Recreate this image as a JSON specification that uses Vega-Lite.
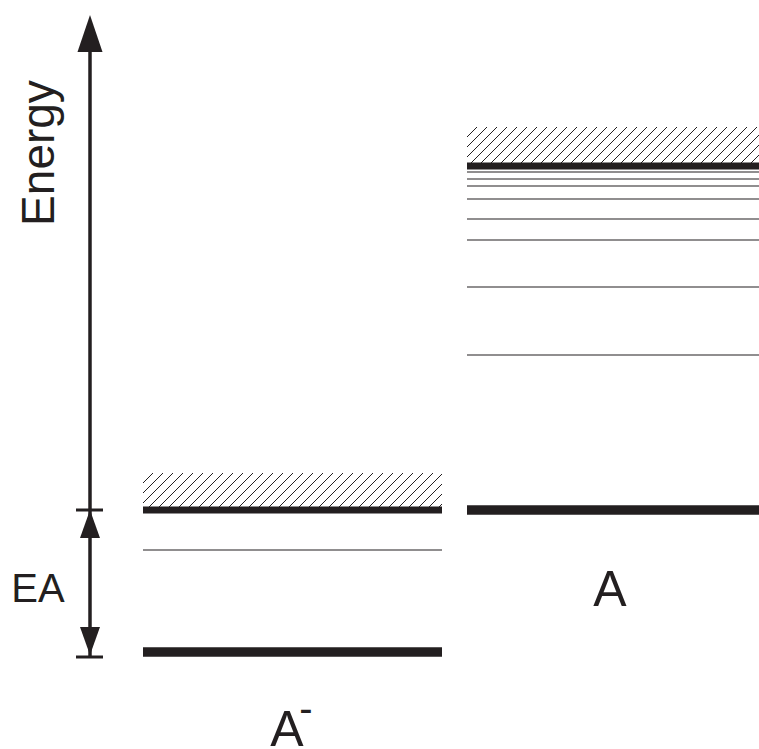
{
  "$schema": "https://vega.github.io/schema/vega-lite/v6.json",
  "description": "Energy-level diagram: the anion A- and the neutral A, with the electron affinity EA between their ground states.",
  "width": 759,
  "height": 749,
  "autosize": "none",
  "padding": 0,
  "background": "white",
  "config": {"view": {"stroke": null}, "font": "Liberation Sans"},
  "datasets": {
    "columns": [
      {"species": "A-", "x": 0, "x2": 299},
      {"species": "A", "x": 324, "x2": 616}
    ],
    "levels": [
      {"species": "A-", "E": 0, "kind": "bound"},
      {"species": "A-", "E": 102, "kind": "excited"},
      {"species": "A-", "E": 142, "kind": "threshold"},
      {"species": "A", "E": 142, "kind": "bound"},
      {"species": "A", "E": 297, "kind": "excited"},
      {"species": "A", "E": 365, "kind": "excited"},
      {"species": "A", "E": 412, "kind": "excited"},
      {"species": "A", "E": 433, "kind": "excited"},
      {"species": "A", "E": 453, "kind": "excited"},
      {"species": "A", "E": 466, "kind": "excited"},
      {"species": "A", "E": 473, "kind": "excited"},
      {"species": "A", "E": 480, "kind": "excited"},
      {"species": "A", "E": 486, "kind": "threshold"}
    ],
    "continuum": [
      {"x": 0, "E": 169, "x2": 10, "E2": 179},
      {"x": 0, "E": 159, "x2": 20, "E2": 179},
      {"x": 0, "E": 149, "x2": 30, "E2": 179},
      {"x": 6, "E": 145, "x2": 40, "E2": 179},
      {"x": 16, "E": 145, "x2": 50, "E2": 179},
      {"x": 26, "E": 145, "x2": 60, "E2": 179},
      {"x": 36, "E": 145, "x2": 70, "E2": 179},
      {"x": 46, "E": 145, "x2": 80, "E2": 179},
      {"x": 56, "E": 145, "x2": 90, "E2": 179},
      {"x": 66, "E": 145, "x2": 100, "E2": 179},
      {"x": 76, "E": 145, "x2": 110, "E2": 179},
      {"x": 86, "E": 145, "x2": 120, "E2": 179},
      {"x": 96, "E": 145, "x2": 130, "E2": 179},
      {"x": 106, "E": 145, "x2": 140, "E2": 179},
      {"x": 116, "E": 145, "x2": 150, "E2": 179},
      {"x": 126, "E": 145, "x2": 160, "E2": 179},
      {"x": 136, "E": 145, "x2": 170, "E2": 179},
      {"x": 146, "E": 145, "x2": 180, "E2": 179},
      {"x": 156, "E": 145, "x2": 190, "E2": 179},
      {"x": 166, "E": 145, "x2": 200, "E2": 179},
      {"x": 176, "E": 145, "x2": 210, "E2": 179},
      {"x": 186, "E": 145, "x2": 220, "E2": 179},
      {"x": 196, "E": 145, "x2": 230, "E2": 179},
      {"x": 206, "E": 145, "x2": 240, "E2": 179},
      {"x": 216, "E": 145, "x2": 250, "E2": 179},
      {"x": 226, "E": 145, "x2": 260, "E2": 179},
      {"x": 236, "E": 145, "x2": 270, "E2": 179},
      {"x": 246, "E": 145, "x2": 280, "E2": 179},
      {"x": 256, "E": 145, "x2": 290, "E2": 179},
      {"x": 266, "E": 145, "x2": 299, "E2": 178},
      {"x": 276, "E": 145, "x2": 299, "E2": 168},
      {"x": 286, "E": 145, "x2": 299, "E2": 158},
      {"x": 296, "E": 145, "x2": 299, "E2": 148},
      {"x": 324, "E": 515, "x2": 334, "E2": 525},
      {"x": 324, "E": 505, "x2": 344, "E2": 525},
      {"x": 324, "E": 495, "x2": 354, "E2": 525},
      {"x": 328, "E": 489, "x2": 364, "E2": 525},
      {"x": 338, "E": 489, "x2": 374, "E2": 525},
      {"x": 348, "E": 489, "x2": 384, "E2": 525},
      {"x": 358, "E": 489, "x2": 394, "E2": 525},
      {"x": 368, "E": 489, "x2": 404, "E2": 525},
      {"x": 378, "E": 489, "x2": 414, "E2": 525},
      {"x": 388, "E": 489, "x2": 424, "E2": 525},
      {"x": 398, "E": 489, "x2": 434, "E2": 525},
      {"x": 408, "E": 489, "x2": 444, "E2": 525},
      {"x": 418, "E": 489, "x2": 454, "E2": 525},
      {"x": 428, "E": 489, "x2": 464, "E2": 525},
      {"x": 438, "E": 489, "x2": 474, "E2": 525},
      {"x": 448, "E": 489, "x2": 484, "E2": 525},
      {"x": 458, "E": 489, "x2": 494, "E2": 525},
      {"x": 468, "E": 489, "x2": 504, "E2": 525},
      {"x": 478, "E": 489, "x2": 514, "E2": 525},
      {"x": 488, "E": 489, "x2": 524, "E2": 525},
      {"x": 498, "E": 489, "x2": 534, "E2": 525},
      {"x": 508, "E": 489, "x2": 544, "E2": 525},
      {"x": 518, "E": 489, "x2": 554, "E2": 525},
      {"x": 528, "E": 489, "x2": 564, "E2": 525},
      {"x": 538, "E": 489, "x2": 574, "E2": 525},
      {"x": 548, "E": 489, "x2": 584, "E2": 525},
      {"x": 558, "E": 489, "x2": 594, "E2": 525},
      {"x": 568, "E": 489, "x2": 604, "E2": 525},
      {"x": 578, "E": 489, "x2": 614, "E2": 525},
      {"x": 588, "E": 489, "x2": 616, "E2": 517},
      {"x": 598, "E": 489, "x2": 616, "E2": 507},
      {"x": 608, "E": 489, "x2": 616, "E2": 497}
    ],
    "labels": [
      {"label": "Energy", "x": -89.5, "E": 499, "role": "axis"},
      {"label": "EA", "x": -105, "E": 50, "role": "gap"},
      {"label": "A", "x": 467, "E": 46, "role": "species"},
      {"label": "A", "x": 144, "E": -94, "role": "species"},
      {"label": "-", "x": 163, "E": -70, "role": "charge"}
    ]
  },
  "encoding": {
    "x": {"field": "x", "type": "quantitative", "scale": {"domain": [-143, 616], "nice": false, "zero": false}, "axis": null},
    "y": {"field": "E", "type": "quantitative", "scale": {"domain": [-97, 652], "nice": false, "zero": false}, "axis": null}
  },
  "layer": [
    {
      "data": {"name": "continuum"},
      "mark": {"type": "rule", "color": "#231f20", "strokeWidth": 1},
      "encoding": {"x2": {"field": "x2"}, "y2": {"field": "E2"}}
    },
    {
      "data": {"name": "levels"},
      "transform": [
        {"filter": "datum.kind === 'excited'"},
        {"lookup": "species", "from": {"data": {"name": "columns"}, "key": "species", "fields": ["x", "x2"]}}
      ],
      "mark": {"type": "rule", "color": "#231f20", "strokeWidth": 1.1},
      "encoding": {"x2": {"field": "x2"}}
    },
    {
      "data": {"name": "levels"},
      "transform": [
        {"filter": "datum.kind === 'threshold'"},
        {"lookup": "species", "from": {"data": {"name": "columns"}, "key": "species", "fields": ["x", "x2"]}}
      ],
      "mark": {"type": "rule", "color": "#231f20", "strokeWidth": 7},
      "encoding": {"x2": {"field": "x2"}}
    },
    {
      "data": {"name": "levels"},
      "transform": [
        {"filter": "datum.kind === 'bound'"},
        {"lookup": "species", "from": {"data": {"name": "columns"}, "key": "species", "fields": ["x", "x2"]}}
      ],
      "mark": {"type": "rule", "color": "#231f20", "strokeWidth": 9.5},
      "encoding": {"x2": {"field": "x2"}}
    },
    {
      "data": {"values": [{"x": -53, "E": -5, "E2": 601}]},
      "mark": {"type": "rule", "color": "#231f20", "strokeWidth": 3.5},
      "encoding": {"y2": {"field": "E2"}}
    },
    {
      "data": {"values": [{"x": -67, "x2": -40, "E": 142}, {"x": -67, "x2": -40, "E": -5}]},
      "mark": {"type": "rule", "color": "#231f20", "strokeWidth": 3},
      "encoding": {"x2": {"field": "x2"}}
    },
    {
      "data": {"values": [{"x": -53, "E": 618.5}]},
      "mark": {"type": "point", "filled": true, "color": "#231f20", "opacity": 1, "size": 1369, "shape": "M0,-1L-0.676,1L0.676,1Z"},
      "encoding": {}
    },
    {
      "data": {"values": [{"x": -53, "E": 128}]},
      "mark": {"type": "point", "filled": true, "color": "#231f20", "opacity": 1, "size": 784, "shape": "M0,-1L-0.714,1L0.714,1Z"},
      "encoding": {}
    },
    {
      "data": {"values": [{"x": -53, "E": 11}]},
      "mark": {"type": "point", "filled": true, "color": "#231f20", "opacity": 1, "size": 784, "shape": "M0,1L-0.714,-1L0.714,-1Z"},
      "encoding": {}
    },
    {
      "data": {"name": "labels"},
      "transform": [{"filter": "datum.role === 'axis'"}],
      "mark": {"type": "text", "angle": 270, "fontSize": 46, "align": "center", "baseline": "alphabetic", "color": "#231f20"},
      "encoding": {"text": {"field": "label"}}
    },
    {
      "data": {"name": "labels"},
      "transform": [{"filter": "datum.role === 'gap'"}],
      "mark": {"type": "text", "fontSize": 40, "align": "center", "baseline": "alphabetic", "color": "#231f20"},
      "encoding": {"text": {"field": "label"}}
    },
    {
      "data": {"name": "labels"},
      "transform": [{"filter": "datum.role === 'species'"}],
      "mark": {"type": "text", "fontSize": 50, "align": "center", "baseline": "alphabetic", "color": "#231f20"},
      "encoding": {"text": {"field": "label"}}
    },
    {
      "data": {"name": "labels"},
      "transform": [{"filter": "datum.role === 'charge'"}],
      "mark": {"type": "text", "fontSize": 40, "align": "center", "baseline": "alphabetic", "color": "#231f20"},
      "encoding": {"text": {"field": "label"}}
    }
  ]
}
